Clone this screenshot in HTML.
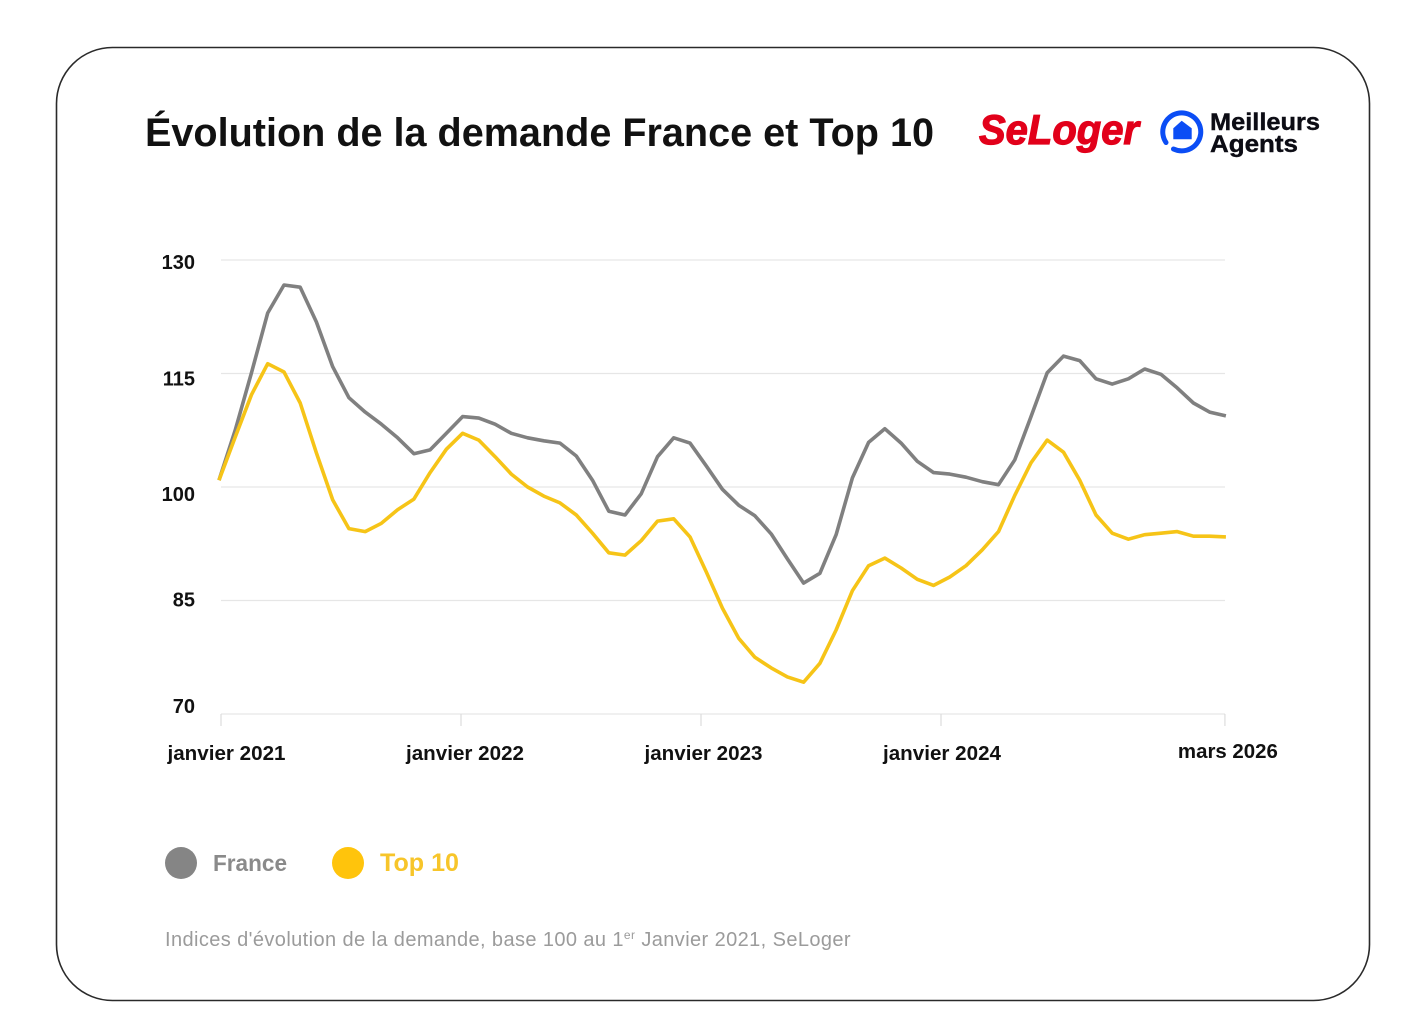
<!DOCTYPE html>
<html lang="fr">
<head>
<meta charset="utf-8">
<title>Évolution de la demande France et Top 10</title>
<style>
html,body{margin:0;padding:0;background:#fff;width:1416px;height:1034px;overflow:hidden}
svg{display:block}
text{font-family:"Liberation Sans",sans-serif}
</style>
</head>
<body>
<svg id="chart" xmlns="http://www.w3.org/2000/svg" width="1416" height="1034" viewBox="0 0 1416 1034">
  <rect x="56.5" y="47.5" width="1313" height="953" rx="56" ry="56" fill="#fff" stroke="#2a2a2a" stroke-width="1.6"/>
  <text x="145" y="146" font-size="40" font-weight="700" fill="#111" textLength="789" lengthAdjust="spacingAndGlyphs">Évolution de la demande France et Top 10</text>
  <g>
    <text x="979" y="144" font-size="42" font-weight="700" font-style="italic" fill="#e2001a" stroke="#e2001a" stroke-width="1.2" textLength="160" lengthAdjust="spacingAndGlyphs">SeLoger</text>
  </g>
  <g>
    <path d="M1166 142.500A19 19 0 1 1 1173.500 149" fill="none" stroke="#0b4df5" stroke-width="5" stroke-linecap="round"/>
    <polygon points="1181.700,120.700 1191.700,128.300 1191.700,139.300 1173.300,139.300 1173.300,128.300" fill="#0b4df5"/>
    <text x="1210" y="130" font-size="24" font-weight="700" fill="#0c0c14" stroke="#0c0c14" stroke-width=".4" textLength="110" lengthAdjust="spacingAndGlyphs">Meilleurs</text>
    <text x="1210" y="152" font-size="24" font-weight="700" fill="#0c0c14" stroke="#0c0c14" stroke-width=".4" textLength="88" lengthAdjust="spacingAndGlyphs">Agents</text>
  </g>
  <g id="grid"></g>
  <g id="yaxis"></g>
  <g id="xaxis"></g>
  <g id="series"></g>
  <g>
    <g>
      <circle cx="181" cy="863" r="16" fill="#858585"/>
      <text x="213" y="871" font-size="23" font-weight="700" fill="#8a8a8a" textLength="74" lengthAdjust="spacingAndGlyphs">France</text>
    </g>
    <g>
      <circle cx="348" cy="863" r="16" fill="#ffc40c"/>
      <text x="380" y="871" font-size="25" font-weight="700" fill="#f7c52a" textLength="79" lengthAdjust="spacingAndGlyphs">Top 10</text>
    </g>
  </g>
  <text x="165" y="946" font-size="20" letter-spacing=".4" fill="#9b9b9b">Indices d'évolution de la demande, base 100 au 1<tspan font-size="12" dy="-7">er</tspan><tspan dy="7"> Janvier 2021, SeLoger</tspan></text>
</svg>
<script>
const franceValues = [100.9,107.5,115.1,123.0,126.7,126.4,121.8,115.9,111.8,109.9,108.3,106.5,104.4,104.9,107.1,109.3,109.1,108.3,107.1,106.5,106.1,105.8,104.1,100.9,96.8,96.3,99.1,104.0,106.5,105.8,102.8,99.7,97.6,96.2,93.8,90.5,87.3,88.6,93.7,101.2,105.9,107.7,105.8,103.4,101.9,101.7,101.3,100.7,100.3,103.6,109.3,115.1,117.3,116.7,114.3,113.6,114.3,115.6,114.9,113.1,111.1,109.9,109.4];
const top10Values = [100.9,106.6,112.2,116.3,115.2,111.1,104.5,98.3,94.5,94.1,95.2,97.0,98.4,101.9,105.0,107.1,106.2,104.0,101.7,100.0,98.8,97.9,96.3,93.9,91.3,91.0,92.9,95.5,95.8,93.4,88.8,84.0,80.0,77.5,76.1,74.9,74.2,76.7,81.1,86.3,89.6,90.6,89.3,87.8,87.0,88.1,89.6,91.7,94.1,98.9,103.2,106.2,104.6,100.9,96.3,93.9,93.1,93.7,93.9,94.1,93.5,93.5,93.4];
const yTicks = [130,115,100,85,70];
const yTickLabels = ["130","115","100","85","70"];
const xTickYears = [0,1,2,3,4.183];
const xTickLabels = ["janvier 2021","janvier 2022","janvier 2023","janvier 2024","mars 2026"];

const SVG_NS = "http://www.w3.org/2000/svg";
const xOfMonth = i => 219 + 16.24 * i;
const xOfYear = t => 221 + 240 * t;
const xOfYearLabel = t => 226.5 + 238.5 * t;
const yOf = v => 487 - (v - 100) * 7.567;
// the printed y labels sit slightly off their gridlines in the source artwork
const yLabelShift = v => v === 130 ? 9 : v === 115 ? 12 : v === 100 ? 14 : v === 85 ? 6 : -1;

function make(tag, attrs, parent, text) {
  const el = document.createElementNS(SVG_NS, tag);
  for (const k in attrs) el.setAttribute(k, attrs[k]);
  if (text !== undefined) el.textContent = text;
  parent.appendChild(el);
  return el;
}

const grid = document.getElementById("grid");
const yaxis = document.getElementById("yaxis");
const xaxis = document.getElementById("xaxis");
const series = document.getElementById("series");

yTicks.forEach((v, i) => {
  const line = make("line", {x1: 221, x2: 1225, y1: yOf(v), y2: yOf(v), stroke: "#e6e6e6", "stroke-width": 1.2}, grid);
  
  
  const label = make("text", {x: 195, y: yOf(v) + yLabelShift(v), "text-anchor": "end", "font-size": 20, "font-weight": 700, fill: "#111"}, yaxis, yTickLabels[i]);
  
  
});

xTickYears.forEach((t, i) => {
  const x = xOfYear(t);
  const tick = make("line", {x1: x, x2: x, y1: 714, y2: 726, stroke: "#dcdcdc", "stroke-width": 1.2}, xaxis);
  
  
  const last = i === xTickYears.length - 1;
  const label = make("text", {x: last ? x + 3 : xOfYearLabel(t), y: last ? 758 : 760, "text-anchor": "middle", "font-size": 20, "font-weight": 700, fill: "#111", textLength: last ? 100 : 118, lengthAdjust: "spacingAndGlyphs"}, xaxis, xTickLabels[i]);
  
  
});

function linePath(values) {
  return values.map((v, i) => (i ? "L" : "M") + xOfMonth(i).toFixed(1) + " " + yOf(v).toFixed(1)).join("");
}

const franceLine = make("path", {d: linePath(franceValues), fill: "none", stroke: "#808080", "stroke-width": 3.6, "stroke-linejoin": "round"}, series);



const top10Line = make("path", {d: linePath(top10Values), fill: "none", stroke: "#f6c417", "stroke-width": 3.6, "stroke-linejoin": "round"}, series);


</script>
</body>
</html>
